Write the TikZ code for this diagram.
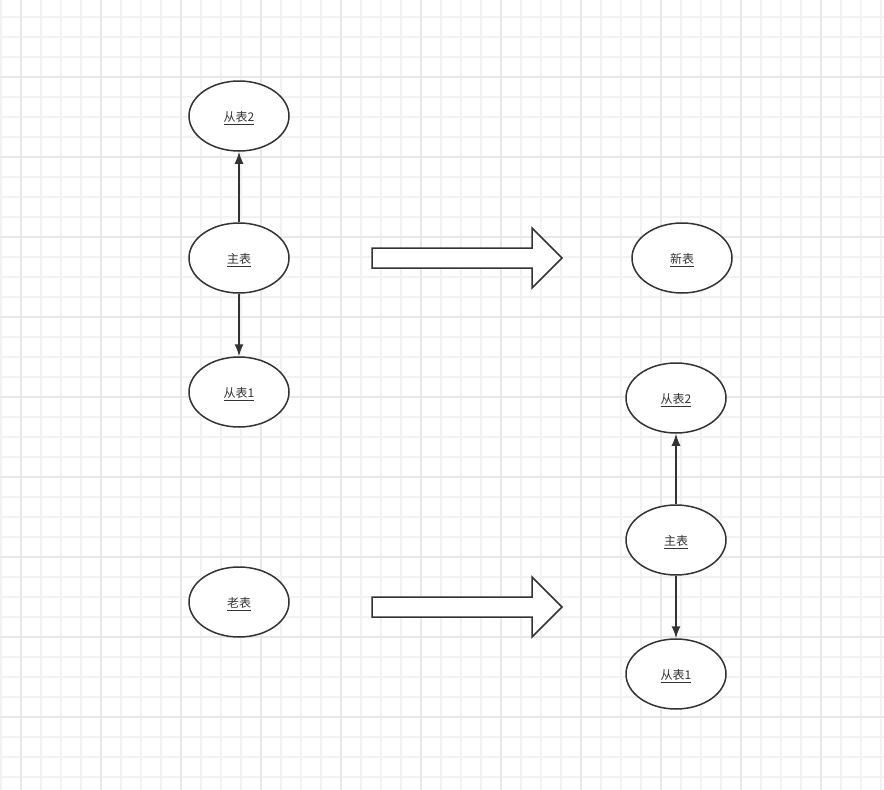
\documentclass[tikz,border=0pt]{standalone}
\usepackage{fontspec}
\newfontfamily\cjk{Noto Sans CJK SC}
\usetikzlibrary{arrows.meta,shapes.geometric}
\definecolor{minorgrid}{HTML}{F2F2F2}
\definecolor{majorgrid}{HTML}{E8E8E8}
\definecolor{ink}{HTML}{333333}
\newcommand{\lbltext}[1]{\raisebox{-2pt}[\height][\depth]{\underline{#1}}}
\begin{document}
\begin{tikzpicture}[x=1pt,y=-1pt,
  tbl/.style={ellipse,draw=ink,line width=1.5pt,fill=white,minimum width=100pt,minimum height=70pt,inner sep=0pt,font=\cjk\fontsize{12}{14}\selectfont,text=ink},
  link/.style={draw=ink,line width=1.5pt,-{Latex[length=12pt,width=9pt]}},
  bigarrow/.style={draw=ink,line width=1.5pt,fill=white,line join=miter}]
\useasboundingbox (0,0) rectangle (884,790);
\fill[white] (0,0) rectangle (884,790);
% minor grid
\foreach \x in {1,21,...,881} \draw[minorgrid,line width=1.5pt] (\x,0) -- (\x,790);
\foreach \y in {17,37,...,777} \draw[minorgrid,line width=1.5pt] (0,\y) -- (884,\y);
% major grid
\foreach \x in {21,101,...,821} \draw[majorgrid,line width=2pt] (\x,0) -- (\x,790);
\foreach \y in {77,157,...,717} \draw[majorgrid,line width=2pt] (0,\y) -- (884,\y);
% left nodes
\node[tbl] (s2a) at (239,116) {\lbltext{从表2}};
\node[tbl] (ma) at (239,258) {\lbltext{主表}};
\node[tbl] (s1a) at (239,392) {\lbltext{从表1}};
\node[tbl] (old) at (239,602) {\lbltext{老表}};
% right nodes
\node[tbl] (new) at (682,258) {\lbltext{新表}};
\node[tbl] (s2b) at (676,398) {\lbltext{从表2}};
\node[tbl] (mb) at (676,540) {\lbltext{主表}};
\node[tbl] (s1b) at (676,674) {\lbltext{从表1}};
% connectors
\draw[link] (ma) -- (s2a);
\draw[link] (ma) -- (s1a);
\draw[link] (mb) -- (s2b);
\draw[link] (mb) -- (s1b);
% block arrows
\draw[bigarrow] (372,248) -- (532,248) -- (532,228) -- (562,258) -- (532,288) -- (532,268) -- (372,268) -- cycle;
\draw[bigarrow] (372,597) -- (532,597) -- (532,577) -- (562,607) -- (532,637) -- (532,617) -- (372,617) -- cycle;
\end{tikzpicture}
\end{document}
